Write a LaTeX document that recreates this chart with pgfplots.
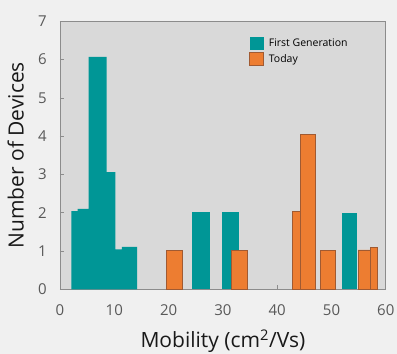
\documentclass[border=0pt]{standalone}
\usepackage{pgfplots}
\pgfplotsset{compat=1.18}
\usepackage{fontspec}
\setmainfont{Open Sans}
\definecolor{bgout}{RGB}{240,240,240}
\definecolor{bgin}{RGB}{217,217,217}
\definecolor{tealbar}{RGB}{0,150,150}
\definecolor{orangebar}{RGB}{237,125,49}
\definecolor{orangeedge}{RGB}{160,90,50}
\definecolor{ticklab}{RGB}{89,89,89}
\definecolor{frame}{RGB}{140,140,140}
\begin{document}
\begin{tikzpicture}
\fill[bgout] (-60pt,-64.7pt) rectangle (337pt,289.3pt);
\begin{axis}[
  at={(0pt,0pt)}, anchor=south west,
  scale only axis, width=325.8pt, height=268.1pt,
  xmin=0, xmax=60, ymin=0, ymax=7,
  xtick={0,10,...,60}, ytick={0,1,...,7},
  axis background/.style={fill=bgin},
  axis line style={frame, line width=0.8pt},
  tick align=inside, tick pos=left,
  major tick length=4pt,
  tick style={frame, line width=0.6pt},
  /pgf/number format/assume math mode=true,
  ticklabel style={font=\fontsize{15}{18}\selectfont, text=ticklab},
  yticklabel style={inner sep=0pt, xshift=-13pt},
  xticklabel style={inner sep=0pt, yshift=-15pt},
  xlabel={Mobility (cm\textsuperscript{2}/Vs)},
  ylabel={Number of Devices},
  label style={font=\fontsize{21}{25}\selectfont, text=black!90},
  xlabel style={at={(axis description cs:0.5,0)}, anchor=north, inner sep=0pt, yshift=-40pt},
  ylabel style={at={(axis description cs:-0.1105,0.5)}, anchor=south, inner sep=0pt},
  legend style={draw=none, fill=none, at={(rel axis cs:0.58,0.942)}, anchor=north west,
    font=\fontsize{10.5}{13}\selectfont, row sep=2pt, inner sep=0pt,
    legend cell align=left, nodes={inner xsep=5pt}},
  legend image code/.code={\fill[#1] (0pt,-6.5pt) rectangle (14pt,6.5pt);},
]
% First Generation (teal)
\addplot[ybar interval, fill=tealbar, draw=none] coordinates {
 (2.08,2.04) (3.26,2.10) (5.29,6.07) (8.6,3.06) (10.2,1.04) (11.4,1.11) (14.2,0)};
\addlegendentry{First Generation}
\addplot[ybar interval, fill=tealbar, draw=none, forget plot] coordinates {(24.4,2.01) (27.6,0)};
\addplot[ybar interval, fill=tealbar, draw=none, forget plot] coordinates {(29.9,2.01) (33.0,0)};
\addplot[ybar interval, fill=tealbar, draw=none, forget plot] coordinates {(52.0,1.98) (54.7,0)};
% Today (orange)
\addplot[ybar interval, fill=orangebar, draw=orangeedge, line width=0.7pt] coordinates {(19.5,1.03) (22.5,0)};
\addlegendentry{Today}
\addplot[ybar interval, fill=orangebar, draw=orangeedge, line width=0.7pt, forget plot] coordinates {(31.6,1.03) (34.5,0)};
\addplot[ybar interval, fill=orangebar, draw=orangeedge, line width=0.7pt, forget plot] coordinates {(42.85,2.03) (44.33,4.05) (47.1,0)};
\addplot[ybar interval, fill=orangebar, draw=orangeedge, line width=0.7pt, forget plot] coordinates {(47.9,1.02) (50.8,0)};
\addplot[ybar interval, fill=orangebar, draw=orangeedge, line width=0.7pt, forget plot] coordinates {(54.9,1.03) (57.1,1.10) (58.5,0)};
\end{axis}
\end{tikzpicture}
\end{document}
